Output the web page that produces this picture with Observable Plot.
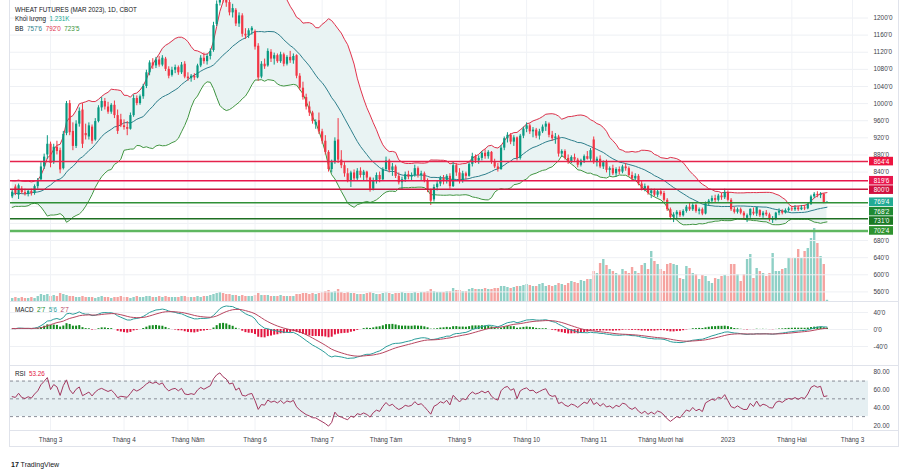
<!DOCTYPE html>
<html><head><meta charset="utf-8">
<script src="https://cdn.jsdelivr.net/npm/d3@7"></script>
<script src="https://cdn.jsdelivr.net/npm/@observablehq/plot@0.6"></script>
<style>
body{margin:0;background:#fff;font-family:"Liberation Sans",Arial,sans-serif}
#chart{position:relative;width:917px;height:469px;overflow:hidden;background:#fff}
#chart svg{position:absolute;left:0}
.leg{position:absolute;left:15px;font-size:6.3px;color:#131722;white-space:pre;line-height:8px}
.line{position:absolute;background:#e0e3eb}
</style></head><body><div id="chart"></div>
<script>
// Wheat futures (CBOT, Mar 2023), daily bars, prices in cents
const earlierCloses = [776,790,804,798,786,772,768,792,810,798,776,762,780,805,815,800,784,770,765,782,800,812,796,778,786];
// [open, high, low, close]
const candles = [
[782,798,778,793],[805,810,785,790],[786,812,776,808],[800,806,788,792],[792,800,784,788],
[788,798,782,795],[795,800,784,790],[790,810,786,806],[806,825,800,820],[822,862,818,852],
[852,882,846,875],[880,925,870,905],[905,910,850,860],[862,905,858,898],[898,912,880,888],
[890,896,836,845],[848,935,845,928],[930,1005,925,1000],[1000,1007,925,932],[935,955,890,900],
[900,960,895,952],[952,990,945,982],[985,1000,895,905],[930,952,915,925],[922,955,915,948],
[945,950,905,912],[915,965,912,958],[958,995,955,990],[990,1014,982,1005],[1005,1012,985,992],
[992,1003,975,980],[980,1000,975,996],[996,1006,965,972],[972,985,928,935],[962,975,944,948],
[948,962,938,944],[944,958,925,940],[940,978,938,972],[972,1020,968,1012],[1012,1018,995,1000],
[1000,1020,996,1016],[1016,1045,1010,1040],[1040,1078,1035,1072],[1072,1100,1065,1095],[1095,1105,1080,1088],
[1088,1108,1082,1102],[1102,1110,1085,1090],[1090,1112,1086,1106],[1104,1108,1075,1080],[1080,1086,1058,1064],
[1066,1085,1062,1078],[1078,1090,1070,1084],[1084,1088,1066,1072],[1072,1096,1068,1090],[1092,1098,1058,1062],
[1062,1072,1052,1058],[1058,1068,1050,1064],[1064,1070,1054,1060],[1060,1092,1058,1088],[1088,1112,1084,1106],
[1106,1118,1092,1098],[1098,1115,1090,1110],[1110,1128,1102,1122],[1124,1190,1120,1182],[1185,1240,1180,1232],
[1235,1275,1228,1262],[1262,1280,1235,1245],[1248,1262,1225,1235],[1236,1245,1205,1212],[1212,1232,1200,1222],
[1218,1222,1180,1186],[1186,1212,1178,1205],[1205,1210,1155,1162],[1162,1175,1150,1158],[1158,1175,1152,1170],
[1170,1180,1160,1176],[1168,1172,1125,1132],[1134,1140,1052,1060],[1062,1098,1058,1092],[1092,1104,1080,1086],
[1088,1128,1085,1122],[1120,1126,1096,1104],[1104,1118,1090,1112],[1112,1116,1094,1098],[1098,1120,1094,1114],
[1114,1118,1086,1092],[1092,1112,1088,1108],[1108,1122,1094,1100],[1100,1116,1092,1110],[1112,1114,1058,1064],
[1064,1070,1030,1036],[1036,1050,1008,1014],[1014,1022,985,992],[992,1004,970,978],[978,982,952,958],
[950,962,940,956],[960,978,928,934],[934,940,905,912],[912,925,880,886],[886,890,840,846],
[846,868,838,862],[862,920,858,912],[915,965,860,868],[868,890,848,855],[855,862,828,836],
[836,848,815,820],[820,842,804,838],[838,845,818,824],[824,848,820,842],[842,850,826,832],
[832,844,820,840],[840,842,818,826],[826,828,793,800],[800,826,796,820],[820,838,812,832],
[832,840,815,822],[822,850,818,846],[846,875,842,866],[866,870,838,844],[844,860,830,852],
[852,856,825,830],[830,838,810,815],[815,828,797,822],[822,840,816,834],[834,842,822,828],
[828,838,818,832],[832,856,828,848],[848,852,826,832],[832,842,818,836],[836,840,815,820],
[820,824,792,798],[798,800,762,772],[775,810,770,804],[804,818,796,812],[812,830,806,825],
[825,832,810,818],[818,834,812,830],[830,836,800,806],[806,862,804,855],[855,860,830,838],
[838,848,812,818],[818,842,814,836],[836,840,822,830],[830,862,828,858],[858,884,852,876],
[876,880,860,866],[866,878,858,872],[872,888,866,884],[884,892,870,876],[876,890,870,886],
[886,888,858,864],[864,870,848,852],[852,860,840,846],[846,902,844,896],[896,922,890,918],
[918,932,908,926],[926,930,904,910],[910,925,900,920],[920,922,866,872],[872,928,868,924],
[924,945,918,940],[940,955,932,948],[948,952,928,934],[934,944,920,938],[938,942,918,924],
[924,940,915,934],[934,950,930,945],[945,958,935,952],[952,955,920,926],[926,935,912,918],
[918,930,905,922],[922,926,875,882],[882,892,874,888],[888,892,868,872],[872,880,858,864],
[864,878,860,874],[874,882,862,868],[868,872,850,856],[856,870,852,866],[866,880,860,876],
[876,888,868,870],[870,895,865,890],[915,922,858,862],[862,875,852,870],[870,878,848,852],
[852,866,846,862],[862,868,838,844],[844,852,830,848],[848,856,832,836],[836,850,828,846],
[846,852,834,840],[840,856,836,852],[852,860,842,848],[848,852,828,832],[832,840,818,824],
[824,836,818,830],[830,834,808,812],[812,820,796,800],[800,812,794,806],[806,808,786,790],
[790,800,778,796],[796,800,782,786],[786,798,780,794],[794,800,784,788],[790,795,770,774],
[774,778,748,752],[752,756,728,734],[734,745,722,740],[740,750,730,746],[746,750,734,738],
[738,752,735,748],[748,762,744,758],[758,768,748,752],[752,766,748,762],[762,765,744,748],
[748,756,740,752],[752,756,738,742],[742,770,740,766],[766,776,760,772],[772,784,766,778],
[778,786,768,774],[774,788,770,784],[784,790,774,780],[780,800,776,792],[792,796,770,774],
[774,778,748,752],[752,758,742,746],[746,756,742,752],[752,756,740,744],[744,748,728,737.5],
[732,742,722,738],[738,754,732,753],[746,756,738,742],[742,758,736,757],[750,752,734,738],
[738,748,732,744],[744,750,736,740],[740,744,724,731.5],[728,736,720,730],[730,746,726,744],
[744,754,738,748],[748,752,740,744],[744,754,742,750],[750,758,746,754],[754,760,748,752],
[752,762,748,756],[756,760,748,752],[752,762,750,756],[756,762,750,754],[754,768,752,764],
[764,786,762,782],[782,792,778,788],[788,794,780,785],[785,792,778,788],[788,790,766,768],
[768,770.5,767,769.5]
];
// daily volume, thousand contracts
const volumesK = [
3,4,3,4,3,3,4,3,5,7, 6,7,5,6,5,8,7,6,5,5, 4,4,5,4,4,4,3,4,5,4, 4,3,4,4,5,4,4,3,4,5,
4,4,5,5,4,4,5,4,5,4, 4,4,4,5,5,4,4,4,5,4, 5,5,6,7,8,9,8,7,7,6, 6,5,6,5,5,5,6,8,6,6,
6,5,5,5,6,5,5,5,5,7, 7,8,8,7,8,7,8,9,10,11, 9,10,12,9,8,9,8,8,7,7, 7,8,9,8,7,7,8,9,8,7,
8,8,9,8,8,8,9,8,9,9, 10,12,10,9,9,9,10,10,13,11, 11,10,10,12,13,12,12,12,13,12, 12,13,13,15,15,14,13,14,15,15,
16,17,16,15,15,17,18,15,16,15, 16,18,17,16,18,20,19,18,21,20, 22,22,30,28,38,42,36,32,30,28, 26,32,30,28,34,30,28,36,38,32,
50,40,37,32,30,37,38,37,36,23, 22,35,33,28,27,22,26,25,20,18, 23,22,25,26,25,37,37,27,20,27, 42,47,23,33,30,28,25,28,48,30,
30,32,33,43,43,43,52,43,50,53, 63,73,58,45,37,1.231
];
// bar index of each month start, and its label
const tickBars = [12,35,55,76,97,117,140,161,182,203,224,244,263];
const tickLabels = ["Tháng 3","Tháng 4","Tháng Năm","Tháng 6","Tháng 7","Tháng Tám","Tháng 9","Tháng 10","Tháng 11","Tháng Mười hai","2023","Tháng Hai","Tháng 3"];
const priceTicks = [560,600,640,680,720,760,800,840,880,920,960,1000,1040,1080,1120,1160,1200];
const macdTicks = [-40,0,40];
const rsiTicks = [20,40,60,80];
const rsiGuides = [30,50,70];
// horizontal price levels
const levelValues = [864.5, 819.75, 800, 768.25, 731, 702.5];
const levelLine = ["#e5234b","#e8174d","#c8173f","#2f8f36","#1e6f22","#5fb760"];
const levelWidth = [1.5,1.5,1.5,1.5,1.5,2.5];
const levelTag = ["#ee1440","#e8174d","#d0103e","#1f8a34","#1b7a24","#2e932f"];

const UP = "#089981", DOWN = "#f23645";
const fmt = v => { const s = v < 0 ? "-" : ""; v = Math.abs(v); let w = Math.floor(v); let f = Math.round((v - w) * 8); if (f === 8) { w++; f = 0; } return s + w + "'" + f; };

// indicators on the full close history
const closesAll = earlierCloses.concat(candles.map(d => d[3]));
const n0 = earlierCloses.length;
const N = candles.length;
function ema(arr, p) { const k = 2 / (p + 1); const out = [arr[0]]; for (let i = 1; i < arr.length; i++) out.push(arr[i] * k + out[i - 1] * (1 - k)); return out; }
const bbRows = [];
for (let i = 0; i < N; i++) {
  const w = closesAll.slice(n0 + i - 19, n0 + i + 1);
  const m = d3.mean(w); const sd = Math.sqrt(d3.mean(w, v => (v - m) ** 2));
  bbRows.push({i, basis: m, upper: m + 2 * sd, lower: m - 2 * sd});
}
const e12 = ema(closesAll, 12), e26 = ema(closesAll, 26);
const macdAll = e12.map((v, i) => v - e26[i]);
const sigAll = ema(macdAll, 9);
const macdRows = d3.range(N).map(i => ({i, macd: macdAll[n0 + i], signal: sigAll[n0 + i], hist: macdAll[n0 + i] - sigAll[n0 + i]}));
let ag = 0, al = 0; const rsiAll = [];
for (let i = 1; i < closesAll.length; i++) {
  const ch = closesAll[i] - closesAll[i - 1]; const g = Math.max(ch, 0), l = Math.max(-ch, 0);
  if (i <= 14) { ag += g / 14; al += l / 14; } else { ag = (ag * 13 + g) / 14; al = (al * 13 + l) / 14; }
  rsiAll[i] = 100 - 100 / (1 + ag / al);
}
const rsiRows = d3.range(N).map(i => ({i, rsi: rsiAll[n0 + i]}));

const bars = candles.map((d, i) => ({i, o: d[0], h: d[1], l: d[2], c: d[3], v: volumesK[i], up: d[3] >= d[0]}));

const xOpts = {domain: [-0.53, 268.0], range: [10, 868]};
const xScale = Plot.scale({x: xOpts});
const yMainOpts = {domain: [537.6, 1240.9], range: [301, 0]};
const yMain = Plot.scale({y: yMainOpts});
const baseStyle = {background: "transparent", overflow: "hidden", fontFamily: "Liberation Sans, Arial, sans-serif", fontSize: "6.4px", color: "#3b3e48"};
const chart = document.getElementById("chart");
function place(svg, top) { svg.style.top = top + "px"; chart.appendChild(svg); }
const common = (h, y) => ({width: 917, height: h, marginLeft: 10, marginRight: 49, marginTop: 0, marginBottom: 0,
  x: {...xOpts, axis: null}, y: {...y, axis: null}, style: baseStyle});
const rightAxis = (ticks, f) => Plot.axisY(ticks, {anchor: "right", tickSize: 0, tickPadding: 5, tickFormat: f, fontSize: 6.4, fill: "#3b3e48", label: null});

// volume overlay under the price pane
place(Plot.plot({...common(301, {domain: [0, 301], range: [301, 0]}), marks: [
  Plot.ruleX(bars, {x: "i", y1: 0, y2: "v", stroke: d => d.up ? "#8fd0c6" : "#f5a3a0", strokeWidth: 2.4})
]}), 0);

// price level tags on the price scale, stacked so they never overlap
const tags = levelValues.map((v, k) => ({v, bg: levelTag[k]})).concat([{v: bars[N - 1].c, bg: "#22ab94"}]).sort((a, b) => b.v - a.v);
let prev = -Infinity;
for (const t of tags) { let py = yMain.apply(t.v); if (py < prev + 9.4) py = prev + 9.4; prev = py; t.py = py; t.ty = yMain.invert(py); t.y1 = yMain.invert(py + 4.3); t.y2 = yMain.invert(py - 4.3); }
const tagX1 = xScale.invert(869), tagX2 = xScale.invert(893), tagXm = xScale.invert(881);
// scale labels hidden behind a tag are left out
const shownTicks = priceTicks.filter(p => tags.every(t => Math.abs(yMain.apply(p) - t.py) > 5.5));

place(Plot.plot({...common(301, yMainOpts), marks: [
  Plot.gridY(priceTicks, {stroke: "#eef0f4", strokeOpacity: 1}),
  Plot.gridX(tickBars, {stroke: "#f0f2f6", strokeOpacity: 1}),
  Plot.areaY(bbRows, {x: "i", y1: "lower", y2: "upper", fill: "#e9f3f3"}),
  Plot.lineY(bbRows, {x: "i", y: "upper", stroke: "#e0324c", strokeWidth: 1}),
  Plot.lineY(bbRows, {x: "i", y: "basis", stroke: "#2e7f8c", strokeWidth: 1}),
  Plot.lineY(bbRows, {x: "i", y: "lower", stroke: "#3e9440", strokeWidth: 1}),
  Plot.ruleX(bars, {x: "i", y1: "l", y2: "h", stroke: d => d.up ? UP : DOWN, strokeWidth: 1}),
  Plot.ruleX(bars, {x: "i", y1: "o", y2: "c", stroke: d => d.up ? UP : DOWN, strokeWidth: 2.2}),
  Plot.ruleY(levelValues, {y: d => d, stroke: (d, i) => levelLine[i], strokeWidth: (d, i) => levelWidth[i]}),
  rightAxis(shownTicks, fmt),
  Plot.rect(tags, {x1: () => tagX1, x2: () => tagX2, y1: "y1", y2: "y2", fill: "bg"}),
  Plot.text(tags, {x: () => tagXm, y: "ty", text: d => fmt(d.v), fill: "white", fontSize: 6.4})
]}), 0);

// MACD pane
place(Plot.plot({...common(63, {domain: [-84.7, 63.5], range: [63, 0]}), marks: [
  Plot.gridY(macdTicks, {stroke: "#eef0f4", strokeOpacity: 1}),
  Plot.gridX(tickBars, {stroke: "#f0f2f6", strokeOpacity: 1}),
  Plot.ruleX(macdRows, {x: "i", y1: 0, y2: "hist", stroke: d => d.hist >= 0 ? "#138a1e" : "#e3163f", strokeWidth: 2}),
  Plot.lineY(macdRows, {x: "i", y: "macd", stroke: "#2a9d9a", strokeWidth: 1}),
  Plot.lineY(macdRows, {x: "i", y: "signal", stroke: "#b8455f", strokeWidth: 1}),
  rightAxis(macdTicks, fmt)
]}), 302);

// RSI pane
place(Plot.plot({...common(64, {domain: [14.37, 86.4], range: [64, 0]}), marks: [
  Plot.gridX(tickBars, {stroke: "#f0f2f6", strokeOpacity: 1}),
  Plot.rectY([0], {x1: xOpts.domain[0], x2: xOpts.domain[1], y1: 30, y2: 70, fill: "#e5eff2"}),
  Plot.ruleY(rsiGuides, {y: d => d, stroke: "#8a8e99", strokeDasharray: "3,3", strokeWidth: 1}),
  Plot.lineY(rsiRows, {x: "i", y: "rsi", stroke: "#a3375f", strokeWidth: 1}),
  rightAxis(rsiTicks, d => d.toFixed(2))
]}), 366);

// time scale
place(Plot.plot({...common(16, {domain: [0, 1], range: [16, 0]}), marks: [
  Plot.text(tickBars, {x: d => d, text: (d, i) => tickLabels[i], fill: "#3b3e48", fontSize: 6.4})
]}), 431);

// pane borders
for (const [l, t, w, h] of [[9, 0, 1, 447], [898, 0, 1, 447], [9, 301, 890, 1], [9, 365, 890, 1], [9, 430, 890, 1], [9, 446, 890, 1]]) {
  const d = document.createElement("div"); d.className = "line";
  Object.assign(d.style, {left: l + "px", top: t + "px", width: w + "px", height: h + "px"}); chart.appendChild(d);
}

// legends
const last = macdRows[N - 1], bbLast = bbRows[N - 1];
function leg(top, html) { const d = document.createElement("div"); d.className = "leg"; d.style.top = top + "px"; d.innerHTML = html; chart.appendChild(d); }
leg(6, "WHEAT FUTURES (MAR 2023), 1D, CBOT");
leg(15, `Khối lượng  <span style="color:#22ab94">${volumesK[N - 1].toFixed(3)}K</span>`);
leg(25, `BB  <span style="color:#2e7f8c">${fmt(bbLast.basis)}</span>  <span style="color:#e0324c">${fmt(bbLast.upper)}</span>  <span style="color:#3e9440">${fmt(bbLast.lower)}</span>`);
leg(306, `MACD  <span style="color:#138a1e">${fmt(last.hist)}</span>  <span style="color:#2a9d9a">${fmt(last.macd)}</span>  <span style="color:#b8455f">${fmt(last.signal)}</span>`);
leg(370, `RSI  <span style="color:#e3163f">${rsiRows[N - 1].rsi.toFixed(2)}</span>`);
const logo = document.createElement("div"); logo.className = "leg"; logo.style.left = "11px"; logo.style.top = "461px"; logo.style.fontSize = "7px";
logo.innerHTML = `<b style="font-family:Arial Black,Liberation Sans;font-weight:900">17</b> TradingView`; chart.appendChild(logo);
</script></body></html>
